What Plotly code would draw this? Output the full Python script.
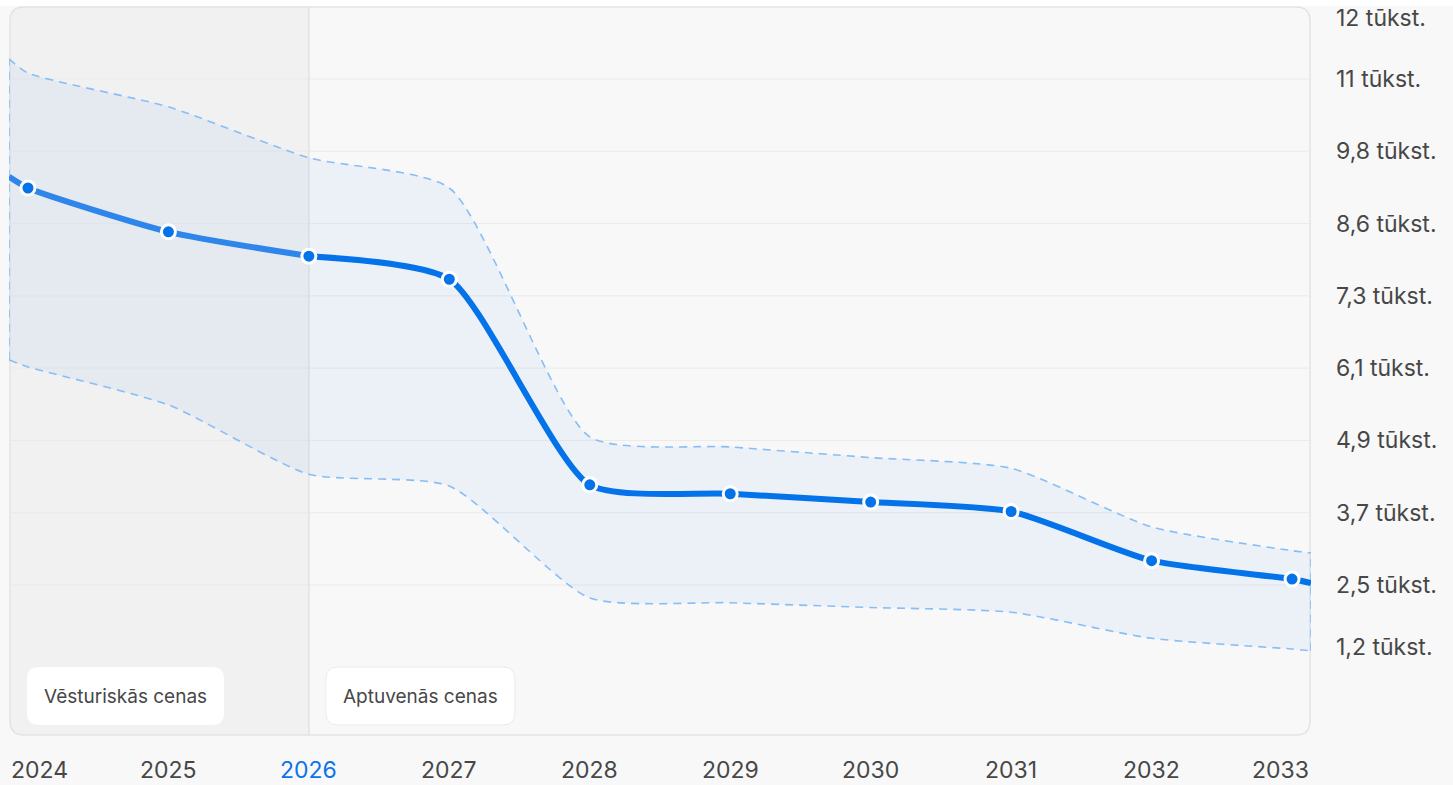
import plotly.graph_objects as go

# ---------------- data (values in thousands) ----------------
years = [2024, 2025, 2026, 2027, 2028, 2029, 2030, 2031, 2032, 2033]
price = [9.16, 8.42, 8.01, 7.62, 4.15, 4.00, 3.86, 3.70, 2.87, 2.56]
upper = [11.10, 10.53, 9.67, 9.16, 4.96, 4.79, 4.61, 4.43, 3.44, 3.04]
lower = [6.14, 5.50, 4.33, 4.13, 2.24, 2.16, 2.08, 2.00, 1.56, 1.38]

edge_x = [2023.865, 2033.135]          # chart edges (line runs to the frame)
price_edge = [9.35, 2.49]
upper_edge = [11.34, 3.00]
lower_edge = [6.26, 1.35]

current_year = 2026
x_labels = [str(y) for y in years]

ytick_vals = [12.03, 11.00, 9.78, 8.56, 7.34, 6.12, 4.90, 3.68, 2.46, 1.41]
ytick_text = ["12 tūkst.", "11 tūkst.", "9,8 tūkst.", "8,6 tūkst.", "7,3 tūkst.",
              "6,1 tūkst.", "4,9 tūkst.", "3,7 tūkst.", "2,5 tūkst.", "1,2 tūkst."]
grid_vals = [11.00, 9.78, 8.56, 7.34, 6.12, 4.90, 3.68, 2.46]
y_range = [-0.072, 12.215]

label_hist = "Vēsturiskās cenas"
label_fore = "Aptuvenās cenas"

# ---------------- layout constants ----------------
WIDTH, HEIGHT = 1453, 785
ML, MR, MT, MB = 9, 142, 7, 50
PW = WIDTH - ML - MR          # 1302
PH = HEIGHT - MT - MB         # 728
FONT = "Inter, Roboto, sans-serif"
BLUE = "#0473ea"
BLUE_HIST = "#2e86ea"
BAND_LINE = "#88bef6"
BAND_FILL = "rgba(0,110,235,0.05)"
TEXT = "#474747"
SMOOTH = 0.6


def px2paper(x, y):
    """page pixel -> paper coords"""
    return (x - ML) / PW, (MT + PH - y) / PH


def x2px(xv):
    return ML + (xv - edge_x[0]) / (edge_x[1] - edge_x[0]) * PW


def rrect(x0, y0, x1, y1, r, corners=("tl", "tr", "br", "bl")):
    rt = {c: (r if c in corners else 0) for c in ("tl", "tr", "br", "bl")}

    def P(x, y):
        a, b = px2paper(x, y)
        return f"{a:.5f},{b:.5f}"

    d = f"M {P(x0 + rt['tl'], y0)} L {P(x1 - rt['tr'], y0)} "
    d += f"Q {P(x1, y0)} {P(x1, y0 + rt['tr'])} L {P(x1, y1 - rt['br'])} "
    d += f"Q {P(x1, y1)} {P(x1 - rt['br'], y1)} L {P(x0 + rt['bl'], y1)} "
    d += f"Q {P(x0, y1)} {P(x0, y1 - rt['bl'])} L {P(x0, y0 + rt['tl'])} "
    d += f"Q {P(x0, y0)} {P(x0 + rt['tl'], y0)} Z"
    return d


fig = go.Figure()

# band (upper / lower, filled between)
bx = [edge_x[0]] + years + [edge_x[1]]
bu = [upper_edge[0]] + upper + [upper_edge[1]]
bl = [lower_edge[0]] + lower + [lower_edge[1]]
fig.add_trace(go.Scatter(x=bx, y=bu, mode="lines",
                         line=dict(color=BAND_LINE, width=1.6, dash="8px,6px",
                                   shape="spline", smoothing=SMOOTH),
                         hoverinfo="skip", showlegend=False))
fig.add_trace(go.Scatter(x=bx, y=bl, mode="lines", fill="tonexty", fillcolor=BAND_FILL,
                         line=dict(color=BAND_LINE, width=1.6, dash="8px,6px",
                                   shape="spline", smoothing=SMOOTH),
                         hoverinfo="skip", showlegend=False))
for i in range(2):
    fig.add_trace(go.Scatter(x=[edge_x[i], edge_x[i]], y=[lower_edge[i], upper_edge[i]],
                             mode="lines", line=dict(color=BAND_LINE, width=1.6, dash="8px,6px"),
                             hoverinfo="skip", showlegend=False))

# main price line: historical part and forecast part
idx = years.index(current_year)
hx = [edge_x[0]] + years[:idx + 1]
hy = [price_edge[0]] + price[:idx + 1]
fx = years[idx:] + [edge_x[1]]
fy = price[idx:] + [price_edge[1]]
fig.add_trace(go.Scatter(x=hx, y=hy, mode="lines",
                         line=dict(color=BLUE_HIST, width=6, shape="spline", smoothing=SMOOTH),
                         hoverinfo="skip", showlegend=False))
fig.add_trace(go.Scatter(x=fx, y=fy, mode="lines",
                         line=dict(color=BLUE, width=6, shape="spline", smoothing=SMOOTH),
                         hoverinfo="skip", showlegend=False))
fig.add_trace(go.Scatter(x=years, y=price, mode="markers",
                         marker=dict(size=14, color=BLUE, line=dict(color="white", width=3)),
                         showlegend=False))

shapes = []
cx = x2px(current_year)
top_px, bot_px = MT, MT + PH
left_px, right_px = ML, ML + PW
# historical shading
shapes.append(dict(type="path", xref="paper", yref="paper", layer="below",
                   path=rrect(left_px + 1, top_px, cx, bot_px, 14, corners=("tl", "bl")),
                   fillcolor="#f1f1f1", line=dict(width=0)))
# gridlines
for g in grid_vals:
    shapes.append(dict(type="line", xref="paper", yref="y", x0=0.001, x1=0.999, y0=g, y1=g,
                       layer="below", line=dict(color="#eaeaea", width=1)))
# current year divider
shapes.append(dict(type="line", xref="x", yref="paper", x0=current_year, x1=current_year,
                   y0=0, y1=1, layer="below", line=dict(color="#e2e2e2", width=1.5)))
# frame
shapes.append(dict(type="path", xref="paper", yref="paper", layer="below",
                   path=rrect(left_px + 1, top_px, right_px - 1, bot_px, 14),
                   fillcolor="rgba(0,0,0,0)", line=dict(color="#e3e3e3", width=1.5)))
# white strip above the chart
shapes.append(dict(type="rect", xref="paper", yref="paper", layer="above",
                   x0=-ML / PW, x1=(WIDTH - ML) / PW, y0=1 + 1 / PH, y1=1 + MT / PH,
                   fillcolor="white", line=dict(width=0)))
# label boxes
shapes.append(dict(type="path", xref="paper", yref="paper", layer="above",
                   path=rrect(27, 667, 224, 725, 12),
                   fillcolor="white", line=dict(width=0)))
shapes.append(dict(type="path", xref="paper", yref="paper", layer="above",
                   path=rrect(cx + 17, 667, cx + 206, 725, 12),
                   fillcolor="white", line=dict(color="#ebebeb", width=1)))

annotations = []
p1 = px2paper((27 + 224) / 2, 696)
annotations.append(dict(text=label_hist, xref="paper", yref="paper", x=p1[0], y=p1[1],
                        showarrow=False, xanchor="center", yanchor="middle",
                        font=dict(family=FONT, size=19, color=TEXT)))
p2 = px2paper(cx + 17 + 189 / 2, 696)
annotations.append(dict(text=label_fore, xref="paper", yref="paper", x=p2[0], y=p2[1],
                        showarrow=False, xanchor="center", yanchor="middle",
                        font=dict(family=FONT, size=19, color=TEXT)))

# x labels
ylab = px2paper(0, 770)[1]
for i, (yr, lab) in enumerate(zip(years, x_labels)):
    if i == 0:
        xv, anc = edge_x[0], "left"
    elif i == len(years) - 1:
        xv, anc = edge_x[1], "right"
    else:
        xv, anc = yr, "center"
    annotations.append(dict(text=lab, xref="x", yref="paper", x=xv, y=ylab,
                            showarrow=False, xanchor=anc, yanchor="middle",
                            font=dict(family=FONT, size=23,
                                      color="#0a74e8" if yr == current_year else TEXT)))

fig.update_layout(
    width=WIDTH, height=HEIGHT,
    margin=dict(l=ML, r=MR, t=MT, b=MB, pad=0, autoexpand=False),
    paper_bgcolor="#f8f8f8", plot_bgcolor="#f8f8f8",
    shapes=shapes, annotations=annotations,
    showlegend=False,
    xaxis=dict(range=edge_x, showgrid=False, zeroline=False, showticklabels=False,
               showline=False, fixedrange=True, automargin=False),
    yaxis=dict(range=y_range, side="right", showgrid=False, zeroline=False,
               tickvals=ytick_vals, ticktext=ytick_text, ticks="",
               ticklabelstandoff=24, ticklabeloverflow="allow", automargin=False,
               tickfont=dict(family=FONT, size=23, color=TEXT),
               showline=False, fixedrange=True),
)

fig.write_html("out.html", config={"displayModeBar": False},
               post_script="document.body.style.margin='0px';")
